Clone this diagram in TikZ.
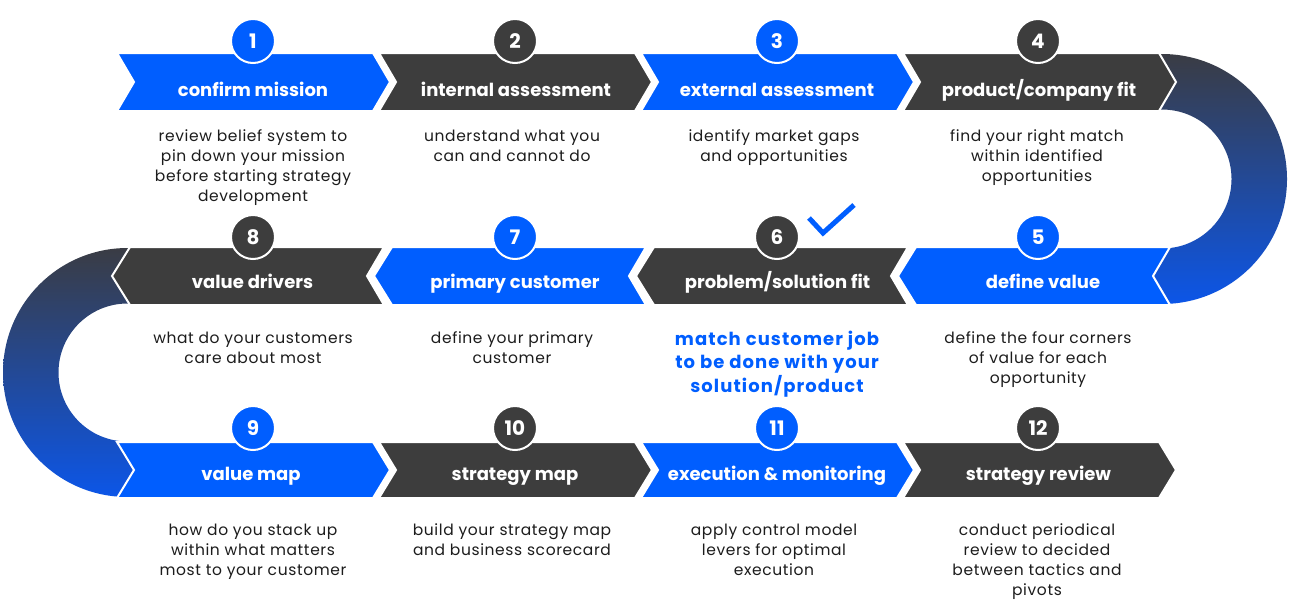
\documentclass[tikz,border=0pt]{standalone}
\usepackage{fontspec}
\setmainfont{Poppins}
\definecolor{cblue}{RGB}{0,94,255}
\definecolor{cdark}{RGB}{61,61,61}
\definecolor{ctext}{RGB}{28,28,28}
\definecolor{rtop}{RGB}{58,60,68}
\definecolor{rbot}{RGB}{12,86,232}
\newcommand\chevR[5]{%
  \filldraw[chev,fill=#5] (#1,-#2) -- ({#1+256},-#2) -- ({#1+273},-#3) -- ({#1+256},-#4) -- (#1,-#4) -- ({#1+17},-#3) -- cycle;}
\newcommand\chevL[5]{%
  \filldraw[chev,fill=#5] (#1,-#3) -- ({#1+18},-#2) -- ({#1+272},-#2) -- ({#1+255},-#3) -- ({#1+272},-#4) -- ({#1+18},-#4) -- cycle;}
\tikzset{
  chev/.style={draw=white, line width=2pt, line join=miter},
  numc/.style={circle, minimum size=44pt, inner sep=0pt, draw=white, line width=2pt,
    text=white, font=\fontsize{20}{20}\selectfont\bfseries},
  lab/.style={anchor=base, inner sep=0pt, text=white, font=\fontsize{18}{20}\selectfont\bfseries},
  desc/.style={anchor=base, inner sep=0pt, align=center, text=ctext,
    font=\fontsize{15.5}{20}\selectfont\addfontfeature{LetterSpace=4}},
  bdesc/.style={anchor=base, inner sep=0pt, align=center, text=cblue,
    font=\fontsize{18}{23.5}\selectfont\bfseries\addfontfeature{LetterSpace=6}},
  ring/.style={top color=rtop, bottom color=rbot},
}
\begin{document}
\begin{tikzpicture}[x=1pt,y=1pt]
\fill[white] (0,0) rectangle (1289,-608);
\useasboundingbox (0,0) rectangle (1289,-608);
% connecting rings
\shade[ring] (1150,-54) -- (1162,-54) arc[start angle=90,end angle=-90,radius=125]
  -- (1150,-304) -- (1150,-248.5) -- (1162,-248.5) arc[start angle=-90,end angle=90,radius=69.5]
  -- (1150,-109.5) -- cycle;
\shade[ring] (140,-248) -- (127.5,-248) arc[start angle=90,end angle=270,radius=124.5]
  -- (140,-497) -- (140,-441.5) -- (127.5,-441.5) arc[start angle=270,end angle=90,radius=69]
  -- (140,-303.5) -- cycle;
% row 1
\chevR{117}{53}{82}{111}{cblue}
\chevR{379}{53}{82}{111}{cdark}
\chevR{641}{53}{82}{111}{cblue}
\chevR{903}{53}{82}{111}{cdark}
% row 2
\chevL{112}{247}{276}{305}{cdark}
\chevL{374}{247}{276}{305}{cblue}
\chevL{636}{247}{276}{305}{cdark}
\chevL{898}{247}{276}{305}{cblue}
% row 3
\chevR{117}{442}{470}{498}{cblue}
\chevR{379}{442}{470}{498}{cdark}
\chevR{641}{442}{470}{498}{cblue}
\chevR{903}{442}{470}{498}{cdark}
% number circles
\node[numc, fill=cblue] (c1) at (253,-41) {1};
\node[numc, fill=cdark] (c2) at (515,-41) {2};
\node[numc, fill=cblue] (c3) at (777,-41) {3};
\node[numc, fill=cdark] (c4) at (1038,-41) {4};
\node[numc, fill=cdark] (c8) at (253,-237) {8};
\node[numc, fill=cblue] (c7) at (515,-237) {7};
\node[numc, fill=cdark] (c6) at (777,-237) {6};
\node[numc, fill=cblue] (c5) at (1038,-237) {5};
\node[numc, fill=cblue] (c9) at (253,-428) {9};
\node[numc, fill=cdark] (c10) at (515,-428) {10};
\node[numc, fill=cblue] (c11) at (777,-428) {11};
\node[numc, fill=cdark] (c12) at (1038,-428) {12};
% labels
\node[lab] (l1) at (253,-96) {confirm mission};
\node[lab] (l2) at (516,-96) {internal assessment};
\node[lab] (l3) at (777,-96) {external assessment};
\node[lab] (l4) at (1039,-96) {product/company fit};
\node[lab] (l8) at (252.5,-288) {value drivers};
\node[lab] (l7) at (515,-288) {primary customer};
\node[lab] (l6) at (777.5,-288) {problem/solution fit};
\node[lab] (l5) at (1043,-288) {define value};
\node[lab] (l9) at (251,-480) {value map};
\node[lab] (l10) at (515,-480) {strategy map};
\node[lab] (l11) at (777,-480) {execution \& monitoring};
\node[lab] (l12) at (1038.5,-480) {strategy review};
% descriptions (anchor = baseline of last line)
\node[desc] (d1) at (253,-201) {review belief system to\\pin down your mission\\before starting strategy\\development};
\node[desc] (d2) at (512,-161) {understand what you\\can and cannot do};
\node[desc] (d3) at (774,-161) {identify market gaps\\and opportunities};
\node[desc] (d4) at (1037,-181) {find your right match\\within identified\\opportunities};
\node[desc] (d8) at (253,-363) {what do your customers\\care about most};
\node[desc] (d7) at (512,-363) {define your primary\\customer};
\node[bdesc] (d6) at (777,-392) {match customer job\\to be done with your\\solution/product};
\node[desc] (d5) at (1038,-383) {define the four corners\\of value for each\\opportunity};
\node[desc] (d9) at (253,-575) {how do you stack up\\within what matters\\most to your customer};
\node[desc] (d10) at (512,-555) {build your strategy map\\and business scorecard};
\node[desc] (d11) at (774,-575) {apply control model\\levers for optimal\\execution};
\node[desc] (d12) at (1037,-595) {conduct periodical\\review to decided\\between tactics and\\pivots};
% check mark
\coordinate (k1) at (809,-218);
\coordinate (k2) at (823,-233);
\coordinate (k3) at (854,-205);
\draw[cblue, line width=5pt] (k1) -- (k2) -- (k3);
\end{tikzpicture}
\end{document}
